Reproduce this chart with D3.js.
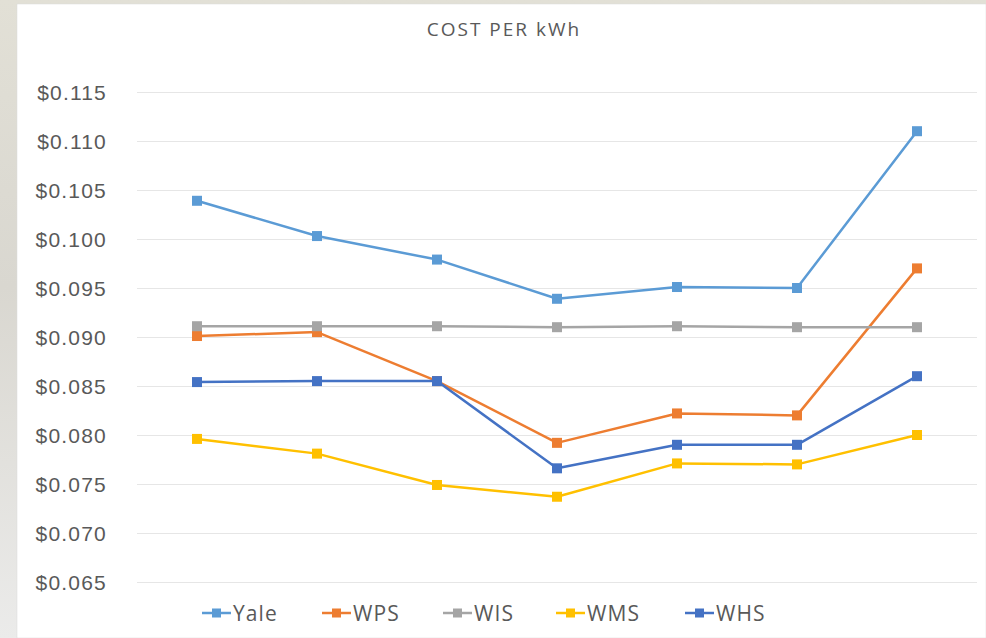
<!DOCTYPE html>
<html>
<head>
<meta charset="utf-8">
<script src="https://cdn.jsdelivr.net/npm/d3@7"></script>
<style>
  html, body { margin: 0; padding: 0; }
  body { width: 986px; height: 638px; overflow: hidden; background: #e4e2dc; }
  svg { display: block; font-family: "Open Sans", Lato, sans-serif; }
</style>
</head>
<body>
<div id="chart"></div>
<script>
const categories = ['1', '2', '3', '4', '5', '6', '7'];
const seriesNames = ['Yale', 'WPS', 'WIS', 'WMS', 'WHS'];
const seriesColors = ['#5b9bd5', '#ed7d31', '#a5a5a5', '#ffc000', '#4472c4'];
const yale = [0.1039, 0.1003, 0.0979, 0.0939, 0.0951, 0.0950, 0.1110];
const wps = [0.0901, 0.0905, 0.0855, 0.0792, 0.0822, 0.0820, 0.0970];
const wis = [0.0911, 0.0911, 0.0911, 0.0910, 0.0911, 0.0910, 0.0910];
const wms = [0.0796, 0.0781, 0.0749, 0.0737, 0.0771, 0.0770, 0.0800];
const whs = [0.0854, 0.0855, 0.0855, 0.0766, 0.0790, 0.0790, 0.0860];
const yTicks = [0.065, 0.070, 0.075, 0.080, 0.085, 0.090, 0.095, 0.100, 0.105, 0.110, 0.115];

const seriesValues = [yale, wps, wis, wms, whs];

const width = 986;
const height = 638;
const margin = { top: 92, right: 9, bottom: 56, left: 137 };

const svg = d3.select('#chart').append('svg')
  .attr('width', width)
  .attr('height', height);

// faded backdrop on the edges, chart card on top
const defs = svg.append('defs');
const grad = defs.append('linearGradient').attr('id', 'bg').attr('x1', 0).attr('y1', 0).attr('x2', 0).attr('y2', 1);
grad.append('stop').attr('offset', '0%').attr('stop-color', '#e2e0d6');
grad.append('stop').attr('offset', '45%').attr('stop-color', '#d9d7d0');
grad.append('stop').attr('offset', '100%').attr('stop-color', '#ebebea');
svg.append('rect').attr('width', width).attr('height', height).attr('fill', 'url(#bg)');
svg.append('rect')
  .attr('x', 17).attr('y', 4)
  .attr('width', width - 17).attr('height', height - 4)
  .attr('fill', '#ffffff')
  .attr('stroke', '#d9d9d9').attr('stroke-width', 0.5);

const x = d3.scaleBand()
  .domain(categories)
  .range([margin.left, width - margin.right]);

const y = d3.scaleLinear()
  .domain([0.065, 0.115])
  .range([height - margin.bottom, margin.top]);

// gridlines
const yAxis = d3.axisLeft(y)
  .tickValues(yTicks)
  .tickSize(-(width - margin.left - margin.right))
  .tickPadding(30)
  .tickFormat(d => '$' + d3.format('.3f')(d));

const gy = svg.append('g')
  .attr('transform', 'translate(' + margin.left + ',0)')
  .call(yAxis);
gy.select('.domain').remove();
gy.selectAll('.tick line').attr('stroke', '#e6e6e6').attr('stroke-width', 1.2);
gy.selectAll('.tick text')
  .attr('fill', '#595959')
  .style('font-size', '21px')
  .style('letter-spacing', '1.2px')
  .attr('dy', '0.34em');

// title
svg.append('text')
  .attr('x', 504)
  .attr('y', 36)
  .attr('text-anchor', 'middle')
  .attr('fill', '#595959')
  .style('font-size', '19px')
  .style('letter-spacing', '2px')
  .text('COST PER kWh');

const line = d3.line()
  .x((d, i) => x(categories[i]) + x.bandwidth() / 2)
  .y(d => y(d));

const ms = 10;
seriesValues.forEach(function (vals, s) {
  const g = svg.append('g').attr('class', 'series');
  g.append('path')
    .datum(vals)
    .attr('fill', 'none')
    .attr('stroke', seriesColors[s])
    .attr('stroke-width', 2.5)
    .attr('stroke-linejoin', 'round')
    .attr('d', line);
  g.selectAll('rect')
    .data(vals)
    .enter().append('rect')
    .attr('x', (d, i) => x(categories[i]) + x.bandwidth() / 2 - ms / 2)
    .attr('y', d => y(d) - ms / 2)
    .attr('width', ms)
    .attr('height', ms)
    .attr('fill', seriesColors[s]);
});

// legend
const legendX = [202, 322, 443, 556, 685];
const legend = svg.append('g').attr('transform', 'translate(0,613)');
seriesNames.forEach(function (name, s) {
  const item = legend.append('g').attr('transform', 'translate(' + legendX[s] + ',0)');
  item.append('line')
    .attr('x1', 0).attr('x2', 29)
    .attr('stroke', seriesColors[s])
    .attr('stroke-width', 2.5);
  item.append('rect')
    .attr('x', 10).attr('y', -4.5)
    .attr('width', 9).attr('height', 9)
    .attr('fill', seriesColors[s]);
  item.append('text')
    .attr('x', 31)
    .attr('dy', '0.36em')
    .attr('fill', '#595959')
    .style('font-size', '21px')
    .style('letter-spacing', '1.1px')
    .text(name);
});
</script>
</body>
</html>
